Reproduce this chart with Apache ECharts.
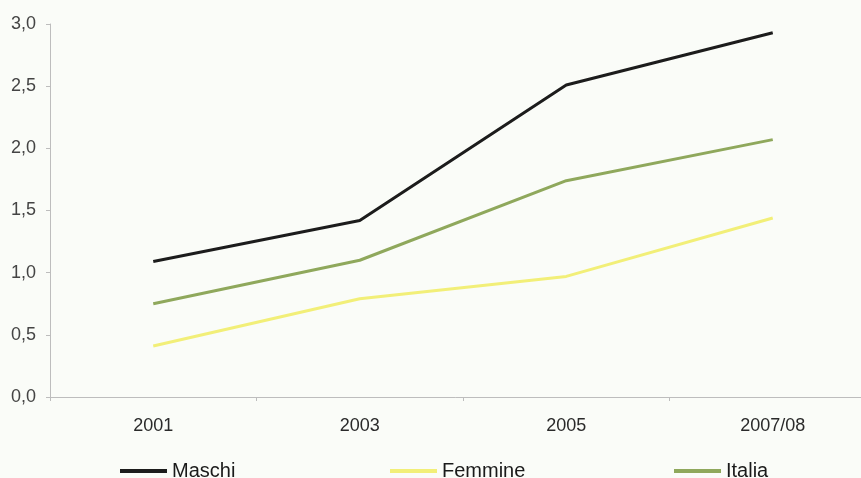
<!DOCTYPE html>
<html>
<head>
<meta charset="utf-8">
<script src="https://cdn.jsdelivr.net/npm/echarts@6/dist/echarts.min.js"></script>
<style>
  html, body { margin: 0; padding: 0; background: #fafcf8; }
  #chart { width: 861px; height: 478px; }
</style>
</head>
<body>
<div id="chart"></div>
<script>
// dati
const anni = ['2001', '2003', '2005', '2007/08']
const maschi = [1.09, 1.42, 2.51, 2.93]
const femmine = [0.41, 0.79, 0.97, 1.44]
const italia = [0.75, 1.10, 1.74, 2.07]

const chart = echarts.init(document.getElementById('chart'))

const lineSeries = (name, data, color) => ({
  name: name,
  type: 'line',
  data: data,
  showSymbol: false,
  symbol: 'none',
  lineStyle: { color: color, width: 3 },
  itemStyle: { color: color }
})

const legendItem = (name, left) => ({
  data: [name],
  left: left,
  top: 456,
  icon: 'rect',
  itemWidth: 47,
  itemHeight: 4,
  textStyle: { fontFamily: 'Liberation Sans', fontSize: 20, color: '#1a1a1a' }
})

chart.setOption({
  backgroundColor: '#fafcf8',
  animation: false,
  // l'asse x prosegue oltre il bordo destro
  grid: { left: 50, right: -15, top: 24, bottom: 81, outerBoundsMode: 'none' },
  legend: [
    legendItem('Maschi', 115),
    legendItem('Femmine', 385),
    legendItem('Italia', 669)
  ],
  xAxis: {
    type: 'category',
    data: anni,
    boundaryGap: true,
    axisLine: { lineStyle: { color: '#bdbdbd', width: 1 } },
    axisTick: { show: true, length: 4, lineStyle: { color: '#bdbdbd' } },
    axisLabel: { margin: 20, fontFamily: 'Liberation Sans', fontSize: 18, color: '#2a2a2a' }
  },
  yAxis: {
    type: 'value',
    min: 0,
    max: 3,
    interval: 0.5,
    splitLine: { show: false },
    axisLine: { show: true, lineStyle: { color: '#bdbdbd', width: 1 } },
    axisTick: { show: true, length: 4, lineStyle: { color: '#bdbdbd' } },
    axisLabel: {
      margin: 14,
      fontFamily: 'Liberation Sans',
      fontSize: 18,
      color: '#444',
      formatter: v => v.toFixed(1).replace('.', ',')
    }
  },
  series: [
    lineSeries('Maschi', maschi, '#1c1c1c'),
    lineSeries('Femmine', femmine, '#f2ef78'),
    lineSeries('Italia', italia, '#8fa85c')
  ]
})
</script>
</body>
</html>
